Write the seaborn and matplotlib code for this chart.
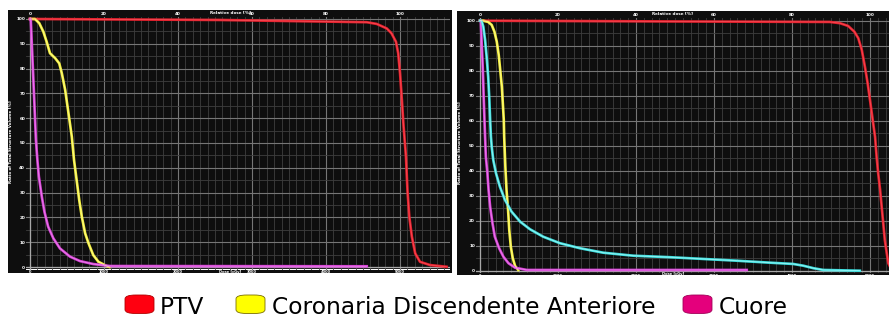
import numpy as np
import pandas as pd
import matplotlib
matplotlib.use("Agg")
import matplotlib.pyplot as plt
from matplotlib.patches import FancyBboxPatch, Rectangle
from matplotlib.ticker import MultipleLocator
import seaborn as sns

# ---------------------------------------------------------------
# Cumulative DVH data: relative dose [%] vs structure volume [%]
# ---------------------------------------------------------------
# Plan A
a_ptv_dose = [0, 51, 91.0, 93.7, 96.4, 97.7, 98.9, 99.5, 100.0, 100.5, 100.9, 101.6,
              102.0, 102.5, 103.2, 104.1, 105.4, 108.1, 112.6]
a_ptv_vol = [100, 99.6, 98.7, 98.0, 96.2, 94.2, 90.8, 86.2, 78.1, 67.3, 57.9, 44.5,
             31, 20.3, 12.2, 5.5, 2.1, 0.8, 0.1]
a_lad_dose = [0, 1.35, 2.5, 3.6, 4.5, 5.4, 6.8, 7.9, 8.6, 9.5, 10.4, 11.3, 11.9, 12.6,
              13.3, 14.0, 14.9, 15.8, 17.1, 18.5, 20.7, 21.5]
a_lad_vol = [100, 100, 98.3, 94.9, 90.8, 86.2, 84.2, 82.1, 78.1, 71.4, 62, 52.5, 43.1,
             35.1, 27, 20.3, 13.6, 9.6, 4.8, 2.1, 0.4, 0]
a_heart_dose = [0, 0.2, 0.9, 1.6, 2.0, 2.4, 3.2, 3.9, 4.9, 6.3, 8.1, 10.8, 13.5, 17.1,
                21.6, 91]
a_heart_vol = [100, 100, 76, 51.2, 43.1, 36.4, 28.3, 22.3, 16.3, 11.6, 7.5, 4.2, 2.4,
               1.2, 0.4, 0.3]

# Plan B
b_ptv_dose = [0, 50, 89.7, 92.3, 94.4, 96.0, 97.0, 97.9, 98.7, 99.4, 100.0, 100.7, 101.3,
              101.7, 102.1, 102.6, 103.0, 103.4, 103.8, 104.3, 104.7, 105.5]
b_ptv_vol = [100, 99.7, 99.5, 99, 97.9, 95.6, 93, 88.3, 81.6, 75, 68.3, 60.3, 53.6,
             45.6, 39, 32.3, 25.6, 19, 12.3, 7, 3, 0.5]
b_lad_dose = [0, 0.85, 2.1, 3.0, 3.7, 4.3, 4.8, 5.1, 5.6, 5.8, 6.1, 6.2, 6.5, 6.8, 7.2,
              7.5, 7.9, 8.4, 9.0, 9.8]
b_lad_vol = [100, 100, 99.5, 98.3, 95.6, 91.6, 86.3, 81.6, 73.6, 68.3, 60.3, 53.6, 41.6,
             32.3, 24.3, 16.3, 9.6, 5, 1.9, 0.3]
b_other_dose = [0, 0.4, 0.85, 1.3, 1.7, 2.1, 2.4, 2.6, 2.8, 3.0, 3.4, 4.1, 5.1, 6.4, 8.1,
                10.3, 12.8, 16.2, 20.5, 25.6, 31.6, 39.3, 48.7, 57.3, 65.8, 74.4, 80.3,
                82.9, 85.5, 88.0, 97.4]
b_other_vol = [100, 100, 97.6, 92.3, 85.6, 77.6, 68.3, 60.3, 53.6, 49.6, 44.3, 39, 33.6,
               28.3, 23.6, 19.6, 16.6, 13.6, 11, 9, 7.2, 6, 5.4, 4.7, 4, 3.2, 2.7, 2, 1,
               0.3, 0]
b_heart_dose = [0, 0.2, 0.4, 0.7, 1.0, 1.3, 1.5, 1.9, 2.2, 2.6, 3.2, 3.8, 4.9, 6.0, 7.3,
                9.0, 12.0, 68.4]
b_heart_vol = [100, 100, 92.3, 81.6, 67, 53.6, 45.6, 39, 32.3, 25.6, 19, 13.6, 9, 5.6,
               3, 1.2, 0.3, 0.3]

structures = ["PTV", "Coronaria Discendente Anteriore", "Cuore", "Altro"]
legend_structures = ["PTV", "Coronaria Discendente Anteriore", "Cuore"]
line_colors = {"PTV": "#e3202c", "Coronaria Discendente Anteriore": "#f4ef3a",
               "Cuore": "#d63ed6", "Altro": "#3fdede"}
core_colors = {"PTV": "#ff5a64", "Coronaria Discendente Anteriore": "#ffffb0",
               "Cuore": "#f2a0f2", "Altro": "#b8ffff"}
legend_colors = {"PTV": ("#ff0010", "#b00000"),
                 "Coronaria Discendente Anteriore": ("#ffff00", "#7a6e00"),
                 "Cuore": ("#e4007c", "#a00058")}

frames = []
for plan, series in [
    ("A", [("PTV", a_ptv_dose, a_ptv_vol),
           ("Coronaria Discendente Anteriore", a_lad_dose, a_lad_vol),
           ("Cuore", a_heart_dose, a_heart_vol)]),
    ("B", [("PTV", b_ptv_dose, b_ptv_vol),
           ("Altro", b_other_dose, b_other_vol),
           ("Coronaria Discendente Anteriore", b_lad_dose, b_lad_vol),
           ("Cuore", b_heart_dose, b_heart_vol)]),
]:
    for name, d, v in series:
        frames.append(pd.DataFrame({"plan": plan, "structure": name,
                                    "dose": d, "volume": v}))
dvh = pd.concat(frames, ignore_index=True)

W, H = 891, 322
fig = plt.figure(figsize=(W / 100, H / 100), dpi=100)
fig.patch.set_facecolor("white")


def px_box(x0, y0, x1, y1):
    return [x0 / W, 1 - y1 / H, (x1 - x0) / W, (y1 - y0) / H]


panels = [
    # plan, panel background box, axes box, x max
    ("A", (8, 10, 452, 273), (26.3, 16.5, 450, 269.5), 113.5),
    ("B", (457, 11, 889, 275), (476.1, 18.2, 888.7, 273.2), 104.8),
]

for plan, bg, box, xmax in panels:
    fig.patches.append(Rectangle((bg[0] / W, 1 - bg[3] / H), (bg[2] - bg[0]) / W,
                                 (bg[3] - bg[1]) / H, transform=fig.transFigure,
                                 facecolor="#0e0e0e", edgecolor="none", zorder=-5))
    ax = fig.add_axes(px_box(*box))
    ax.set_zorder(1)
    ax.set_facecolor("#0e0e0e")
    ax.set_xlim(-1, xmax)
    ax.set_ylim(-1, 101)

    ax.grid(which="minor", color="#3e3e3e", lw=0.6, zorder=0)
    ax.grid(which="major", color="#767676", lw=0.8, zorder=0)
    ax.set_axisbelow(True)
    for s in ax.spines.values():
        s.set_visible(False)
    ax.axvline(0, color="#a8a8a8", lw=0.9, zorder=1)
    ax.axhline(0, color="#a8a8a8", lw=0.9, zorder=1)

    # relative dose on top, absolute dose on the bottom, volume on the left
    ax.xaxis.tick_top()
    ax.tick_params(axis="x", which="both", length=0, pad=0.6, labelsize=3,
                   labelcolor="white")
    ax.tick_params(axis="y", which="both", length=0, pad=0.8, labelsize=3,
                   labelcolor="white")
    ax.set_xticks(np.arange(0, xmax, 20))
    ax.set_xticklabels([f"{v:.0f}" for v in np.arange(0, xmax, 20)],
                       fontweight="bold")
    ax.set_xticks(np.arange(0, xmax, 2), minor=True)
    ax.set_yticks(np.arange(0, 101, 10))
    ax.set_yticklabels([f"{v:.0f}" for v in np.arange(0, 101, 10)],
                       fontweight="bold")
    ax.set_yticks(np.arange(0, 101, 5), minor=True)
    sec = ax.secondary_xaxis("bottom", functions=(lambda x: x * 50, lambda d: d / 50))
    sec.set_xticks(np.arange(0, xmax * 50, 1000))
    sec.set_xticklabels([f"{v:.0f}" for v in np.arange(0, xmax * 50, 1000)],
                        fontweight="bold")
    sec.tick_params(length=0, pad=0.3, labelsize=2.6, labelcolor="white")
    for s in sec.spines.values():
        s.set_visible(False)

    sub = dvh[dvh["plan"] == plan]
    order = [s for s in structures if s in set(sub["structure"])]
    sns.lineplot(data=sub, x="dose", y="volume", hue="structure", hue_order=order,
                 palette=line_colors, units="structure", estimator=None, sort=False,
                 linewidth=1.9, legend=False, ax=ax, zorder=3)
    sns.lineplot(data=sub, x="dose", y="volume", hue="structure", hue_order=order,
                 palette=core_colors, units="structure", estimator=None, sort=False,
                 linewidth=0.55, alpha=0.8, legend=False, ax=ax, zorder=4)
    for line in ax.get_lines():
        line.set_solid_joinstyle("round")
    ax.set_xlabel("")
    ax.set_ylabel("")

    cx = (bg[0] + bg[2]) / 2
    fig.text(cx / W, 1 - (bg[1] + 3.2) / H, "Relative dose [%]", color="white",
             fontsize=3, fontweight="bold", ha="center", va="center", zorder=6)
    fig.text(cx / W, 1 - (bg[3] - 1.2) / H, "Dose [cGy]", color="white",
             fontsize=2.6, fontweight="bold", ha="center", va="center", zorder=6)
    fig.text((bg[0] + 3) / W, 1 - ((bg[1] + bg[3]) / 2) / H,
             "Ratio of Total Structure Volume [%]", color="white", fontsize=3,
             fontweight="bold", rotation=90, ha="center", va="center", zorder=6)

# legend below the panels
legend_items = [
    (legend_structures[0], 125, 160),
    (legend_structures[1], 236, 272),
    (legend_structures[2], 683, 719),
]
for name, sx, tx in legend_items:
    face, edge = legend_colors[name]
    fig.patches.append(FancyBboxPatch(
        (sx / W, 1 - 313.5 / H), 29 / W, 18.5 / H,
        boxstyle="round,pad=0,rounding_size=0.012", transform=fig.transFigure,
        facecolor=face, edgecolor=edge, lw=0.6, zorder=5))
    fig.text(tx / W, 1 - 314.5 / H, name, fontsize=16.8, color="black",
             family="DejaVu Sans", ha="left", va="baseline")

fig.savefig("out.png", dpi=100, facecolor="white")
